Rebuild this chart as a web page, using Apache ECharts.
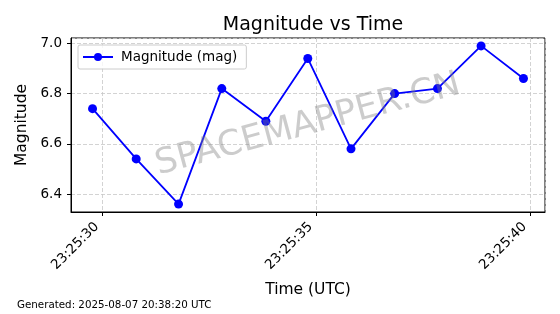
<!DOCTYPE html>
<html>
<head>
<meta charset="utf-8">
<script src="https://cdn.jsdelivr.net/npm/echarts@6/dist/echarts.min.js"></script>
<style>
html,body{margin:0;padding:0;background:#fff;}
#chart{width:560px;height:314px;}
</style>
</head>
<body>
<div id="chart"></div>
<script>
// Data
const times = ["23:25:29.77","23:25:30.79","23:25:31.78","23:25:32.79","23:25:33.82","23:25:34.80","23:25:35.81","23:25:36.83","23:25:37.83","23:25:38.85","23:25:39.84"];
const magnitudes = [6.74, 6.54, 6.36, 6.82, 6.69, 6.94, 6.58, 6.80, 6.82, 6.99, 6.86];
const seriesName = "Magnitude (mag)";
const titleText = "Magnitude vs Time";
const xAxisTitle = "Time (UTC)";
const yAxisTitle = "Magnitude";
const footerText = "Generated: 2025-08-07 20:38:20 UTC";
const watermarkText = "SPACEMAPPER.CN";

function toSec(t){const p=t.split(":");return (+p[0])*3600+(+p[1])*60+(+p[2]);}
function pad(n){return (n<10?"0":"")+n;}
function fmt(v){v=Math.round(v);const h=Math.floor(v/3600),m=Math.floor((v%3600)/60),s=v%60;return pad(h)+":"+pad(m)+":"+pad(s);}

const xs = times.map(toSec);
const pts = xs.map((x,i)=>[x, magnitudes[i]]);
const xMinD=Math.min(...xs), xMaxD=Math.max(...xs);
const yMinD=Math.min(...magnitudes), yMaxD=Math.max(...magnitudes);
const xm=(xMaxD-xMinD)*0.05, ym=(yMaxD-yMinD)*0.05;

const font = "DejaVu Sans";
const chart = echarts.init(document.getElementById('chart'), null, {renderer:'canvas'});
chart.setOption({
  animation:false,
  backgroundColor:'#fff',
  textStyle:{fontFamily:font},
  title:{text:titleText,left:308,top:11,textAlign:'center',textStyle:{fontFamily:font,fontSize:19,fontWeight:'normal',color:'#000'}},
  grid:{left:71,right:15,top:38,bottom:102,show:true,borderColor:'#000',borderWidth:1,backgroundColor:'transparent'},
  legend:{
    left:78,top:45,orient:'vertical',
    backgroundColor:'rgba(255,255,255,0.8)',borderColor:'#ccc',borderWidth:1,borderRadius:2,
    padding:[5,9,5,4],itemWidth:30,itemHeight:10,itemGap:5,
    textStyle:{fontFamily:font,fontSize:13.5,color:'#000',padding:[0,0,0,3]},
    data:[{name:seriesName}]
  },
  xAxis:{
    type:'value',min:xMinD-xm,max:xMaxD+xm,splitNumber:2,
    name:xAxisTitle,nameLocation:'middle',nameGap:70,
    nameTextStyle:{fontFamily:font,fontSize:15.5,color:'#000'},
    axisLine:{show:true,onZero:false,lineStyle:{color:'#000',width:1}},
    axisTick:{show:true,length:4,inside:false,lineStyle:{color:'#000'}},
    axisLabel:{rotate:45,showMinLabel:false,showMaxLabel:false,margin:7,padding:[0,8,0,0],fontFamily:font,fontSize:13.5,color:'#000',formatter:fmt},
    splitLine:{show:true,lineStyle:{color:'#c8c8c8',type:[4,2],width:0.8}}
  },
  yAxis:{
    type:'value',min:yMinD-ym,max:yMaxD+ym,splitNumber:4,
    name:yAxisTitle,nameLocation:'middle',nameGap:35,nameRotate:90,
    nameTextStyle:{fontFamily:font,fontSize:15.5,color:'#000'},
    axisLine:{show:true,onZero:false,lineStyle:{color:'#000',width:1}},
    axisTick:{show:true,length:4,lineStyle:{color:'#000'}},
    axisLabel:{showMinLabel:false,showMaxLabel:false,margin:9,fontFamily:font,fontSize:13.5,color:'#000',formatter:v=>v.toFixed(1)},
    splitLine:{show:true,lineStyle:{color:'#c8c8c8',type:[4,2],width:0.8}}
  },
  series:[{
    name:seriesName,type:'line',data:pts,
    symbol:'circle',symbolSize:9,
    lineStyle:{color:'#0000ff',width:1.8},
    itemStyle:{color:'#0000ff'},
    z:3
  }],
  graphic:[
    {type:'text',left:17,top:300,style:{text:footerText,font:'10.3px "DejaVu Sans"',fill:'#000'}},
    {type:'text',x:308,y:125,rotation:15*Math.PI/180,z:10,style:{text:watermarkText,font:'35px "DejaVu Sans"',fill:'rgba(128,128,128,0.4)',textAlign:'center',textVerticalAlign:'middle'}}
  ]
});
</script>
</body>
</html>
